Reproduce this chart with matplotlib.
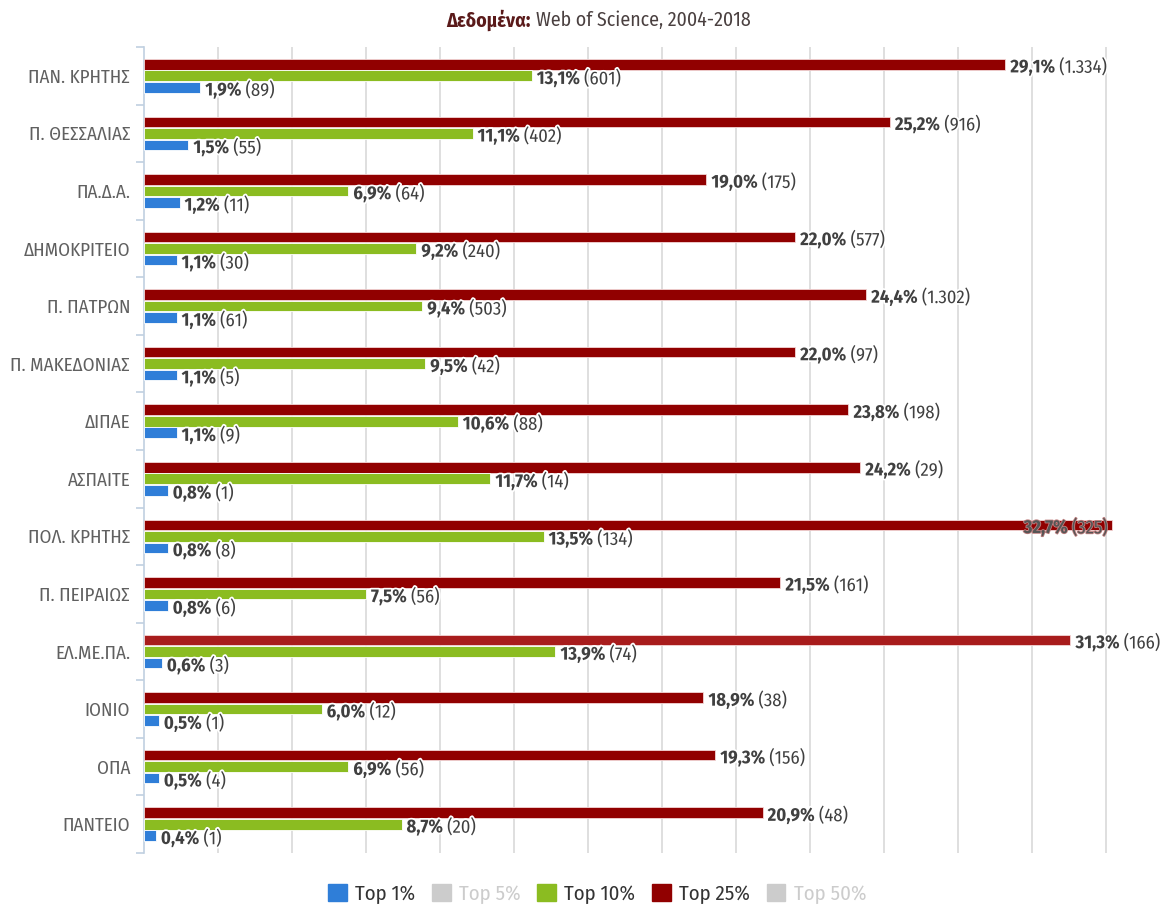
import matplotlib
matplotlib.use("Agg")
import matplotlib.pyplot as plt
from matplotlib import font_manager
from matplotlib.patches import Patch
import matplotlib.patheffects as pe
import numpy as np

# ---------------- data ----------------
categories = ["ΠΑΝ. ΚΡΗΤΗΣ", "Π. ΘΕΣΣΑΛΙΑΣ", "ΠΑ.Δ.Α.", "ΔΗΜΟΚΡΙΤΕΙΟ", "Π. ΠΑΤΡΩΝ",
              "Π. ΜΑΚΕΔΟΝΙΑΣ", "ΔΙΠΑΕ", "ΑΣΠΑΙΤΕ", "ΠΟΛ. ΚΡΗΤΗΣ", "Π. ΠΕΙΡΑΙΩΣ",
              "ΕΛ.ΜΕ.ΠΑ.", "ΙΟΝΙΟ", "ΟΠΑ", "ΠΑΝΤΕΙΟ"]
top25_pct = [29.1, 25.2, 19.0, 22.0, 24.4, 22.0, 23.8, 24.2, 32.7, 21.5, 31.3, 18.9, 19.3, 20.9]
top25_cnt = [1334, 916, 175, 577, 1302, 97, 198, 29, 325, 161, 166, 38, 156, 48]
top10_pct = [13.1, 11.1, 6.9, 9.2, 9.4, 9.5, 10.6, 11.7, 13.5, 7.5, 13.9, 6.0, 6.9, 8.7]
top10_cnt = [601, 402, 64, 240, 503, 42, 88, 14, 134, 56, 74, 12, 56, 20]
top1_pct = [1.9, 1.5, 1.2, 1.1, 1.1, 1.1, 1.1, 0.8, 0.8, 0.8, 0.6, 0.5, 0.5, 0.4]
top1_cnt = [89, 55, 11, 30, 61, 5, 9, 1, 8, 6, 3, 1, 4, 1]
legend_labels = ["Top 1%", "Top 5%", "Top 10%", "Top 25%", "Top 50%"]
legend_visible = [True, False, True, True, False]

# ---------------- fonts ----------------
avail = {}
for f in font_manager.fontManager.ttflist:
    avail.setdefault(f.name, set()).add(f.weight)
FAM = "DejaVu Sans"
for cand in ["Fira Sans Condensed", "Roboto Condensed", "Open Sans Condensed",
             "Encode Sans Condensed", "Ubuntu Condensed", "Liberation Sans Narrow"]:
    if cand in avail:
        FAM = cand
        break
plt.rcParams["font.family"] = [FAM, "DejaVu Sans"]

W, H = 1169, 905
DPI = 100
fig = plt.figure(figsize=(W / DPI, H / DPI), dpi=DPI)
fig.patch.set_facecolor("white")
fig.canvas.draw()
renderer = fig.canvas.get_renderer()


def text_w(s, size, weight="normal"):
    t = fig.text(0, 0, s, fontsize=size, fontweight=weight)
    w = t.get_window_extent(renderer).width
    t.remove()
    return w


def fit(s, target_px, weight="normal", lo=6, hi=20):
    w10 = text_w(s, 10, weight)
    return min(hi, max(lo, 10 * target_px / w10))


CAT_FS = fit("ΠΑΝ. ΚΡΗΤΗΣ", 101, hi=14)
LBL_FS = min(fit("29,1%", 49, "bold", hi=14), fit("(1.334)", 48, hi=14))
LEG_FS = fit("Top 10%", 81, hi=15)
TIT_FS = fit("Web of Science, 2004-2018", 214, hi=15)

left_px, right_px, top_px, bot_px = 144, 1169, 47, 853
ax = fig.add_axes([left_px / W, 1 - bot_px / H, (right_px - left_px) / W, (bot_px - top_px) / H])

px_per_pct = 29.6
xmax = (right_px - left_px) / px_per_pct
ax.set_xlim(0, xmax)
n = len(categories)
ax.set_ylim(n - 0.5, -0.5)

y = np.arange(n)
bh = 0.185
off = 0.2
blue, green, red = "#2f7ed8", "#8bbc21", "#910000"
red_colors = [red] * n
red_colors[categories.index("ΕΛ.ΜΕ.ΠΑ.")] = "#a81c1c"

ax.barh(y - off, top25_pct, height=bh, color=red_colors, edgecolor="#f3d6d6", linewidth=0.6, zorder=3)
ax.barh(y, top10_pct, height=bh, color=green, edgecolor="white", linewidth=0.6, zorder=3)
ax.barh(y + off, top1_pct, height=bh, color=blue, edgecolor="white", linewidth=0.6, zorder=3)

for g in np.arange(2.5, xmax, 2.5):
    ax.axvline(g, color="#d6d6d6", lw=1.1, zorder=1)

for s in ["top", "right", "bottom"]:
    ax.spines[s].set_visible(False)
ax.spines["left"].set_color("#c0d0e0")
ax.spines["left"].set_linewidth(1.2)
ax.set_xticks([])
ax.set_yticks(y)
ax.set_yticklabels(categories, fontsize=CAT_FS, color="#606060")
ax.tick_params(axis="y", which="major", length=0, pad=10)
ax.set_yticks(np.arange(-0.5, n, 1.0), minor=True)
ax.tick_params(axis="y", which="minor", length=6, width=1.2, color="#c0d0e0")


def fmt_pct(v):
    return f"{v:.1f}".replace(".", ",") + "%"


def fmt_cnt(c):
    return f"{c:,}".replace(",", ".")


stroke = [pe.withStroke(linewidth=2.5, foreground="white")]


def add_label(val, cnt, yc):
    bar_end_px = left_px + val * px_per_pct
    s1, s2 = fmt_pct(val), " " + fmt_cnt(cnt).join("()")
    w = text_w(s1, LBL_FS, "bold") + text_w(s2, LBL_FS)
    if bar_end_px + 5 + w <= W - 1:
        t1 = ax.annotate(s1, xy=(val, yc), xytext=(5, -3), textcoords="offset pixels",
                         ha="left", va="center", fontsize=LBL_FS, fontweight="bold",
                         color="#404040", path_effects=stroke, zorder=5)
        ax.annotate(s2, xy=(1, 0.5), xycoords=t1, xytext=(0, 0), textcoords="offset pixels",
                    ha="left", va="center", fontsize=LBL_FS, color="#404040",
                    path_effects=stroke, zorder=5)
    else:
        inner = [pe.withStroke(linewidth=1.2, foreground="#c08080")]
        t2 = ax.annotate(s2, xy=(val, yc), xytext=(-4, -3), textcoords="offset pixels",
                         ha="right", va="center", fontsize=LBL_FS, color="#555555",
                         path_effects=inner, zorder=5)
        ax.annotate(s1, xy=(0, 0.5), xycoords=t2, xytext=(0, 0), textcoords="offset pixels",
                    ha="right", va="center", fontsize=LBL_FS, fontweight="bold",
                    color="#555555", path_effects=inner, zorder=5)


for i in range(n):
    add_label(top25_pct[i], top25_cnt[i], y[i] - off)
    add_label(top10_pct[i], top10_cnt[i], y[i])
    add_label(top1_pct[i], top1_cnt[i], y[i] + off)

# title
ty = 1 - 20 / H
fig.text(531 / W, ty, "Δεδομένα:", ha="right", va="center", fontsize=TIT_FS, fontweight="bold", color="#5a1a1a")
fig.text(536 / W, ty, "Web of Science, 2004-2018", ha="left", va="center", fontsize=TIT_FS, color="#4a4040")

# legend
leg_cols = [blue, "#cccccc", green, red, "#cccccc"]
handles = [Patch(facecolor=c, edgecolor=c) for c in leg_cols]
leg = fig.legend(handles, legend_labels, loc="center", bbox_to_anchor=(597 / W, 1 - 894 / H),
                 ncol=5, frameon=False, fontsize=LEG_FS, handlelength=0.9, handleheight=0.9,
                 handletextpad=0.4, columnspacing=0.8)
for txt, vis in zip(leg.get_texts(), legend_visible):
    txt.set_color("#333333" if vis else "#cccccc")

fig.savefig("out.png", dpi=DPI, facecolor="white")
